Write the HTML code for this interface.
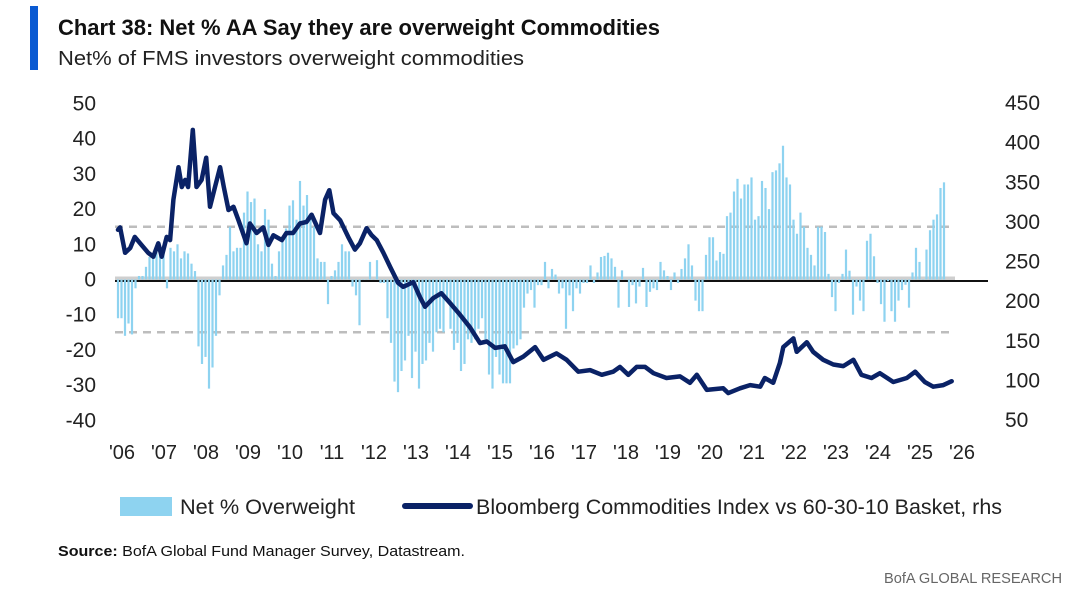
<!DOCTYPE html>
<html><head><meta charset="utf-8"><style>
html,body{margin:0;padding:0;background:#fff;}
svg{display:block;font-family:"Liberation Sans",sans-serif;}
</style></head><body>
<svg id="chart" width="1080" height="611" viewBox="0 0 1080 611">
<rect x="30" y="6" width="8" height="64" fill="#0a5ad2"/>
<text x="58" y="35" font-size="22" font-weight="bold" fill="#111" textLength="602" lengthAdjust="spacingAndGlyphs">Chart 38: Net % AA Say they are overweight Commodities</text>
<text x="58" y="65" font-size="20" fill="#222" textLength="466" lengthAdjust="spacingAndGlyphs">Net% of FMS investors overweight commodities</text>
<g id="grid"></g><g id="bars"></g><g id="line"></g><g id="axes"></g>
<g>
<rect x="120" y="497" width="52" height="19" fill="#8ed3f0"/>
<text x="180" y="514" font-size="21" fill="#222" textLength="175" lengthAdjust="spacingAndGlyphs">Net % Overweight</text>
<line x1="405" y1="506" x2="470" y2="506" stroke="#0a2266" stroke-width="6" stroke-linecap="round"/>
<text x="476" y="514" font-size="21" fill="#222" textLength="526" lengthAdjust="spacingAndGlyphs">Bloomberg Commodities Index vs 60-30-10 Basket, rhs</text>
</g>
<text x="58" y="556" font-size="15" fill="#111" textLength="407" lengthAdjust="spacingAndGlyphs"><tspan font-weight="bold">Source:</tspan> BofA Global Fund Manager Survey, Datastream.</text>
<text x="1062" y="583" font-size="15" fill="#666" text-anchor="end" textLength="178" lengthAdjust="spacingAndGlyphs">BofA GLOBAL RESEARCH</text>
</svg>
<script>
const barStartYear = 2006;
const barValues = [-11,-11,-16,-12.5,-15.6,-2.5,1,1,3.6,6.4,6.4,9,8,9,-2.5,9,8,10,6,8,7.4,4.5,2.4,-19,-24,-22,-31,-25,-16,-4.5,4,7,15,8,9,9,19,25,22,23,10,8,20,17,4.5,1,8,12,14.5,21,22.5,17,28,21,24,18,15,6,5,5,-7,1,2.6,5,10,8,8,-2,-4.5,-13,0,0,5,0,5.5,-1,-1,
-11,-18,-29,-32,-26,-23,-16,-28,-20.5,-31,-24,-23,-18,-20.5,-15,-14,-15,-6,-14,-20,-18,-26,-24,-17,-18,-17,-14,-11,-17,-27,-31,-22,-27,-29.5,-29.5,-29.5,-19.6,-18.7,-17,-8,-4,-3,-8,-1.6,-1.6,5,-2.5,3,1.4,-4,-2.5,-14,-4.5,-9,-2.5,-4,-1,-1,4,-1,2,6.4,6.7,7.6,6,3.6,-8,2.6,0,-7.8,-1.6,-6.8,-2,3.3,-7.8,-3.5,-2.5,-3,5,2.6,
1,-3,2,-1,3,
6,10,4,-6,-9,-9,7,12,12,5.4,7.8,7.3,18,19,25,28.6,23,27,27,29,17,18,28,26,20,30.5,31,33,38,29,27,17,13,19,15,9,7,4,15,15,13.5,1.6,-5,-9,-1,1.6,8.5,2.5,-10,-2,-6,-9,11,13,6.6,-1,-7,-12,-0.5,-9,-12,-6,-3,-1.5,-8,2,9,5,0,8.5,14,17,18.5,26,27.6];
const lineDates = [2006.0,2006.05,2006.17,2006.29,2006.40,2006.56,2006.72,2006.84,2006.96,2007.04,2007.16,2007.24,2007.32,2007.44,2007.52,2007.60,2007.67,2007.78,2007.83,2007.87,2007.99,2008.10,2008.19,2008.31,2008.43,2008.52,2008.63,2008.75,2008.87,2009.06,2009.14,2009.30,2009.46,2009.58,2009.70,2009.90,2010.01,2010.17,2010.33,2010.49,2010.61,2010.81,2010.93,2011.03,2011.13,2011.29,2011.48,2011.64,2011.76,2011.92,2012.04,2012.16,2012.32,2012.48,2012.67,2012.79,2013.03,2013.19,2013.31,2013.51,2013.70,2013.90,2014.14,2014.38,2014.62,2014.78,2014.98,2015.21,2015.41,2015.65,2015.93,2016.13,2016.44,2016.68,2016.96,2017.24,2017.52,2017.79,2017.95,2018.15,2018.35,2018.55,2018.75,2019.06,2019.38,2019.62,2019.78,2020.02,2020.41,2020.53,2020.81,2021.05,2021.29,2021.40,2021.60,2021.76,2021.84,2022.08,2022.16,2022.40,2022.55,2022.79,2023.03,2023.27,2023.51,2023.70,2023.94,2024.14,2024.46,2024.78,2024.98,2025.21,2025.41,2025.65,2025.85];
const lineValues = [290,293,261,267,281,271,261,256,273,256,281,277,328,369,344,353,344,416,378,344,353,381,319,344,369,344,315,319,302,273,298,286,293,271,283,277,286,286,298,300,309,286,328,340,311,302,281,265,273,292,283,277,261,243,223,218,224,205,193,204,210,198,183,167,147,149,141,143,123,130,142,126,134,126,111,113,107,111,117,107,117,117,109,103,105,97,107,88,90,84,90,94,92,103,97,122,142,153,136,148,136,126,120,118,126,107,103,109,98,103,111,98,92,94,99];
const leftTicks = [50,40,30,20,10,0,-10,-20,-30,-40];
const rightTicks = [450,400,350,300,250,200,150,100,50];
const yearTicks = ["'06","'07","'08","'09","'10","'11","'12","'13","'14","'15","'16","'17","'18","'19","'20","'21","'22","'23","'24","'25","'26"];
const refLines = [15,-15];

const NS="http://www.w3.org/2000/svg";
function xOf(yr){return 118+(yr-2006)*42;}
function yL(v){return 279.5-v*3.52;}
function yR(v){return 103+(450-v)*0.7925;}
function mk(tag,attrs,parent){const e=document.createElementNS(NS,tag);for(const k in attrs)e.setAttribute(k,attrs[k]);parent.appendChild(e);return e;}
const grid=document.getElementById('grid'),bars=document.getElementById('bars'),line=document.getElementById('line'),axes=document.getElementById('axes');

let band=mk('rect',{x:115,y:yL(0)-3,width:840,height:5,fill:'#cfcfcf'},grid);


refLines.forEach(v=>{
 const l=mk('line',{x1:115,x2:955,y1:yL(v),y2:yL(v),stroke:'#bdbdbd','stroke-width':2.5,'stroke-dasharray':'8 6'},grid);
 
 
});
barValues.forEach((v,i)=>{
 const x=xOf(barStartYear+i/12);
 const y0=yL(0),y1=yL(v);
 const r=mk('rect',{x:x-1.1,y:Math.min(y0,y1),width:2.2,height:Math.max(Math.abs(y1-y0),0.5),fill:'#8ed3f0'},bars);
 
 
});
const zl=mk('line',{x1:115,x2:988,y1:yL(0)+1.5,y2:yL(0)+1.5,stroke:'#111','stroke-width':2},grid);


let d=lineDates.map((t,i)=>(i?'L':'M')+xOf(t).toFixed(1)+' '+yR(lineValues[i]).toFixed(1)).join(' ');
const p=mk('path',{d:d,fill:'none',stroke:'#0a2266','stroke-width':4.5,'stroke-linejoin':'round','stroke-linecap':'round'},line);


leftTicks.forEach(v=>{
 const t=mk('text',{x:96,y:yL(v)+7,'font-size':21,'text-anchor':'end',fill:'#222'},axes);t.textContent=v;
 
 
});
rightTicks.forEach(v=>{
 const t=mk('text',{x:1005,y:yR(v)+7,'font-size':21,fill:'#222'},axes);t.textContent=v;
 
 
});
yearTicks.forEach((s,i)=>{
 const t=mk('text',{x:xOf(2006+i)+4,y:459,'font-size':20,'text-anchor':'middle',fill:'#222'},axes);t.textContent=s;
 
 
});
</script>
</body></html>
